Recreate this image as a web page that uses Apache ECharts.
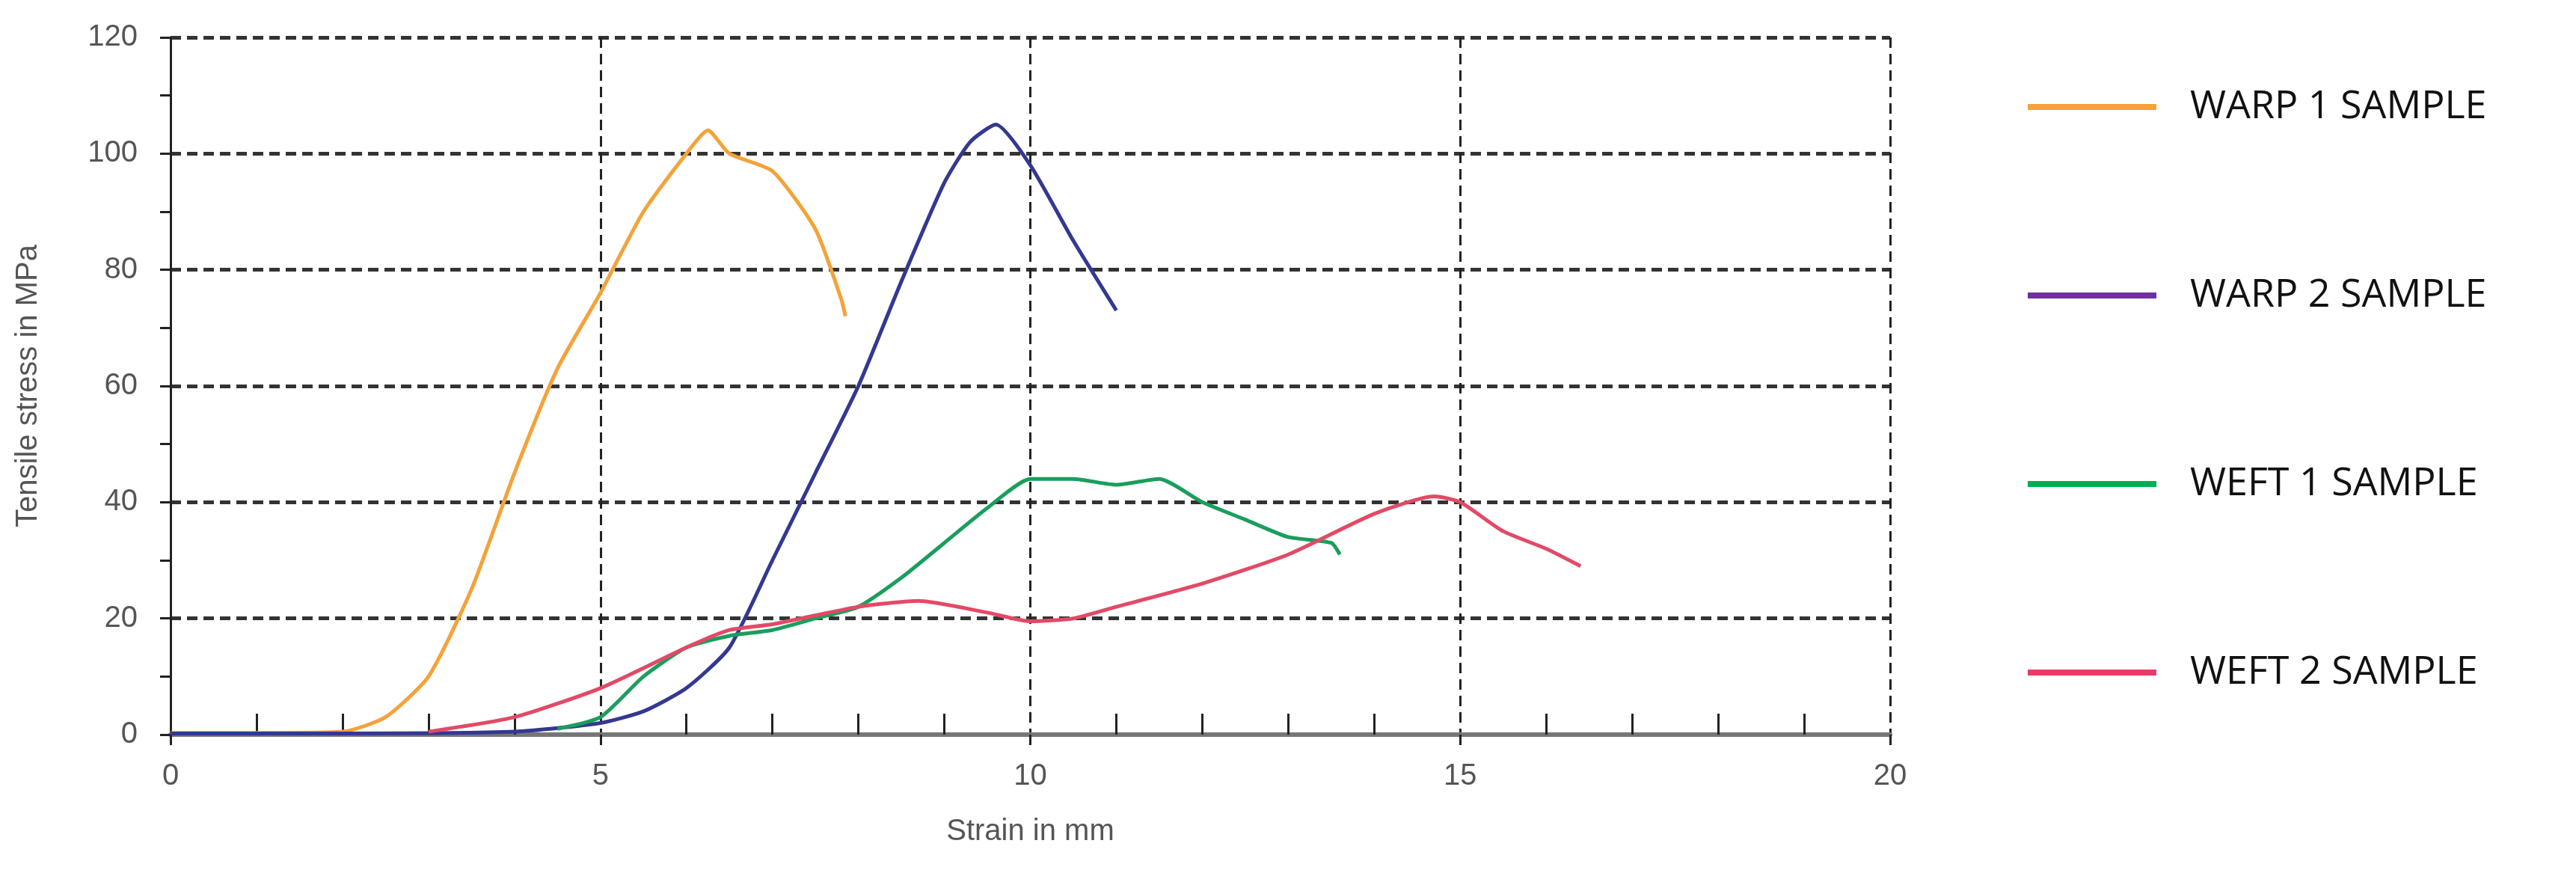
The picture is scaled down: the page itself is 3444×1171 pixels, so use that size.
<!DOCTYPE html>
<html><head><meta charset="utf-8">
<script src="https://cdn.jsdelivr.net/npm/echarts@6/dist/echarts.min.js"></script>
<style>html,body{margin:0;padding:0;background:#fff}#c{width:3444px;height:1171px}</style>
</head><body><div id="c"></div>
<script>
const names = ['WARP 1 SAMPLE','WARP 2 SAMPLE','WEFT 1 SAMPLE','WEFT 2 SAMPLE'];
const warp1 = [[0,0.3],[1,0.3],[2,0.5],[2.5,3],[3,10],[3.5,25],[4,45],[4.5,63],[5,76],[5.5,90],[6,100],[6.25,104],[6.5,100],[7,97],[7.5,87],[7.8,75],[7.85,72]];
const warp2 = [[0,0.2],[2,0.2],[4,0.5],[5,2],[5.5,4],[6,8],[6.5,15],[7,30],[7.5,45],[8,60],[8.5,78],[9,95],[9.3,102],[9.6,105],[10,98],[10.5,85],[11,73]];
const weft1 = [[4.5,1],[5,3],[5.5,10],[6,15],[6.5,17],[7,18],[7.5,20],[8,22],[8.5,27],[9,33],[9.5,39],[10,44],[10.5,44],[11,43],[11.5,44],[12,40],[12.5,37],[13,34],[13.5,33],[13.6,31]];
const weft2 = [[3,0.5],[4,3],[5,8],[6,15],[6.5,18],[7,19],[8,22],[8.7,23],[9.5,21],[10,19.5],[10.5,20],[11,22],[12,26],[13,31],[14,38],[14.7,41],[15,40],[15.5,35],[16,32],[16.4,29]];
const lineColors = ['#f4a23a','#333891','#1a9e5c','#e24a66'];
const legendColors = ['#f4a23a','#7030a0','#00b050','#ea3a67'];
const seriesData = [warp1, warp2, weft1, weft2];
const chart = echarts.init(document.getElementById('c'));
chart.setOption({
  animation:false,
  grid:{left:228,right:917,top:50,bottom:189},
  legend:{orient:'vertical',left:2706,top:112,itemGap:200,itemWidth:172,itemHeight:8,icon:'rect',
    textStyle:{fontFamily:'Open Sans',fontSize:52,color:'#111',padding:[0,0,0,40]},
    data:names.map((n,i)=>({name:n,itemStyle:{color:legendColors[i]}}))},
  xAxis:{type:'value',min:0,max:20,interval:5,name:'Strain in mm',nameLocation:'middle',nameGap:110,
    nameTextStyle:{fontFamily:'Liberation Sans',fontSize:40,color:'#555'},
    axisLine:{onZero:false,lineStyle:{color:'#777',width:6}},
    axisTick:{length:14,inside:false,lineStyle:{color:'#222',width:3}},
    minorTick:{show:true,splitNumber:5,length:-28,lineStyle:{color:'#222',width:3}},
    axisLabel:{fontFamily:'Liberation Sans',fontSize:40,color:'#555',margin:36},
    splitLine:{lineStyle:{color:'#222',type:[14,8],width:3}}},
  yAxis:{type:'value',min:0,max:120,interval:20,name:'Tensile stress in MPa',nameLocation:'middle',nameGap:170,
    nameTextStyle:{fontFamily:'Liberation Sans',fontSize:40,color:'#555'},
    axisLine:{show:true,lineStyle:{color:'#222',width:3}},
    axisTick:{show:true,length:14,lineStyle:{color:'#222',width:3}},
    minorTick:{show:true,splitNumber:2,length:14,lineStyle:{color:'#222',width:3}},
    axisLabel:{fontFamily:'Liberation Sans',fontSize:40,color:'#555',margin:44},
    splitLine:{lineStyle:{color:'#333',type:[14,8],width:5}}},
  series:seriesData.map((d,i)=>({name:names[i],type:'line',data:d,smooth:0.2,showSymbol:false,
    lineStyle:{color:lineColors[i],width:5},itemStyle:{color:lineColors[i]}}))
});
</script></body></html>
